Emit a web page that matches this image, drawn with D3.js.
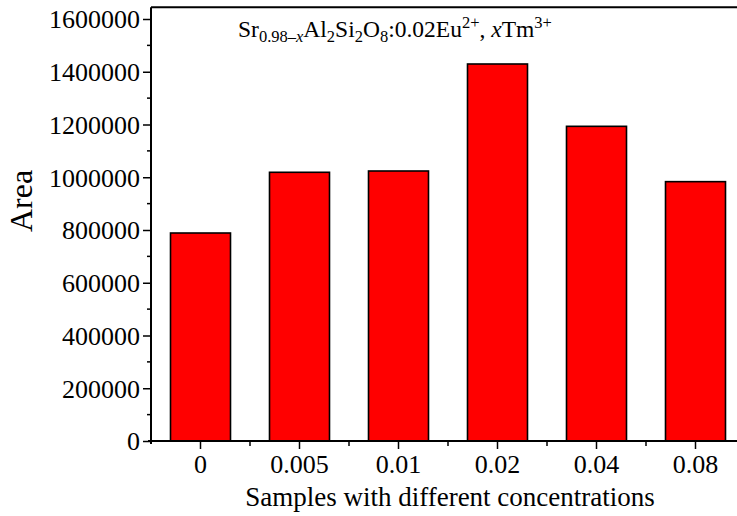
<!DOCTYPE html>
<html>
<head>
<meta charset="utf-8">
<script src="https://cdn.jsdelivr.net/npm/d3@7"></script>
<style>
    body { margin: 0; background: #fff; }
</style>
</head>
<body>
<svg id="chart" width="737" height="516"></svg>
<script>
'use strict';

// data
var categories = ['0', '0.005', '0.01', '0.02', '0.04', '0.08'];
var areaValues = [788600, 1018800, 1023700, 1429400, 1193100, 983300];
var yTicks = [0, 200000, 400000, 600000, 800000, 1000000, 1200000, 1400000, 1600000];
var yMinorTicks = [100000, 300000, 500000, 700000, 900000, 1100000, 1300000, 1500000];
var yTop = 1645000;

var FONT = '"Liberation Serif", "Times New Roman", serif';

var svg = d3.select('#chart')
    .attr('font-family', FONT);

var left = 151;
var bottom = 441;

var y = d3.scaleLinear()
    .domain([0, 1600000])
    .range([bottom, 19]);

var x = d3.scaleBand()
    .domain(categories)
    .range([left, left + 6 * 99])
    .paddingInner(0.394)
    .paddingOuter(0.197);

var g = svg.append('g');

// bars
g.selectAll('rect.bar')
    .data(areaValues)
    .enter()
    .append('rect')
    .attr('class', 'bar')
    .attr('x', function (d, i) {
        return x(categories[i]);
    })
    .attr('y', function (d) {
        return y(d);
    })
    .attr('width', x.bandwidth())
    .attr('height', function (d) {
        return y(0) - y(d);
    })
    .attr('fill', '#ff0000')
    .attr('stroke', '#000')
    .attr('stroke-width', 1.6);

// y axis
var yAxis = d3.axisLeft(y)
    .tickValues(yTicks)
    .tickSize(8)
    .tickPadding(3)
    .tickFormat(d3.format('d'));

var yG = g.append('g')
    .attr('transform', 'translate(' + left + ',0)')
    .call(yAxis)
    .attr('font-family', FONT)
    .attr('font-size', 26);

yG.select('.domain').remove();
yG.selectAll('.tick line').attr('stroke-width', 1.5);
yG.selectAll('.tick text')
    .style('font-family', FONT)
    .attr('fill', '#000')
    .attr('dy', '0.34em');

g.selectAll('line.yminor')
    .data(yMinorTicks)
    .enter()
    .append('line')
    .attr('class', 'yminor')
    .attr('x1', left - 4)
    .attr('x2', left)
    .attr('y1', function (d) { return y(d); })
    .attr('y2', function (d) { return y(d); })
    .attr('stroke', '#000')
    .attr('stroke-width', 1.5);

// x axis
var xAxis = d3.axisBottom(x)
    .tickSize(8)
    .tickPadding(5);

var xG = g.append('g')
    .attr('transform', 'translate(0,' + bottom + ')')
    .call(xAxis)
    .attr('font-family', FONT)
    .attr('font-size', 26);

xG.select('.domain').remove();
xG.selectAll('.tick line').attr('stroke-width', 1.5);
xG.selectAll('.tick text')
    .style('font-family', FONT)
    .attr('fill', '#000')
    .attr('dy', '0.73em');

g.selectAll('line.xminor')
    .data(categories.slice(1))
    .enter()
    .append('line')
    .attr('class', 'xminor')
    .attr('x1', function (d) { return x(d) - x.step() * x.paddingInner() / 2; })
    .attr('x2', function (d) { return x(d) - x.step() * x.paddingInner() / 2; })
    .attr('y1', bottom)
    .attr('y2', bottom + 5)
    .attr('stroke', '#000')
    .attr('stroke-width', 1.5);

// frame: left, bottom and top lines
g.append('line')
    .attr('x1', left).attr('x2', left)
    .attr('y1', y(yTop)).attr('y2', bottom + 3)
    .attr('stroke', '#000').attr('stroke-width', 2);

g.append('line')
    .attr('x1', left - 3).attr('x2', 737)
    .attr('y1', bottom).attr('y2', bottom)
    .attr('stroke', '#000').attr('stroke-width', 2);

g.append('line')
    .attr('x1', left).attr('x2', 737)
    .attr('y1', y(yTop)).attr('y2', y(yTop))
    .attr('stroke', '#000').attr('stroke-width', 2);

// axis titles
svg.append('text')
    .attr('x', 450)
    .attr('y', 506)
    .attr('text-anchor', 'middle')
    .attr('font-size', 27)
    .text('Samples with different concentrations');

svg.append('text')
    .attr('transform', 'translate(32,201) rotate(-90)')
    .attr('text-anchor', 'middle')
    .attr('font-size', 32)
    .text('Area');

// formula label
var label = svg.append('text')
    .attr('x', 238)
    .attr('y', 37)
    .attr('font-size', 23.5);

function part(t, opts) {
    var s = label.append('tspan').text(t);
    if (opts && opts.size) { s.attr('font-size', opts.size); }
    if (opts && opts.dy) { s.attr('dy', opts.dy); }
    if (opts && opts.italic) { s.attr('font-style', 'italic'); }
    return s;
}

part('Sr');
part('0.98\u2013', {size: 16.5, dy: 5});
part('x', {size: 16.5, italic: true});
part('Al', {dy: -5});
part('2', {size: 16.5, dy: 5});
part('Si', {dy: -5});
part('2', {size: 16.5, dy: 5});
part('O', {dy: -5});
part('8', {size: 16.5, dy: 5});
part(':0.02Eu', {dy: -5});
part('2+', {size: 16.5, dy: -9});
part(', ', {dy: 9});
part('x', {italic: true});
part('Tm');
part('3+', {size: 16.5, dy: -9});
</script>
</body>
</html>
